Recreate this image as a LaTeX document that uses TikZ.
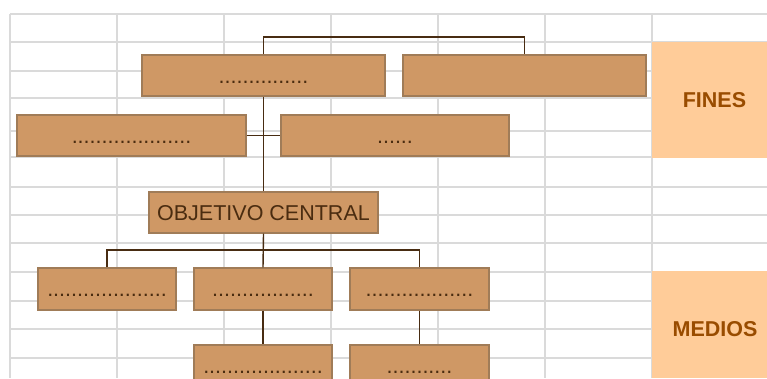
\documentclass[tikz,border=0pt]{standalone}
\usepackage{fontspec}
\setmainfont{Liberation Sans}
\definecolor{gridc}{RGB}{218,218,218}
\definecolor{boxfill}{RGB}{207,152,101}
\definecolor{boxline}{RGB}{160,124,88}
\definecolor{conn}{RGB}{72,44,18}
\definecolor{txt}{RGB}{74,44,16}
\definecolor{labfill}{RGB}{255,204,153}
\definecolor{labtxt}{RGB}{153,76,0}
\begin{document}
\begin{tikzpicture}[x=1pt,y=-1pt,
  gridline/.style={draw=gridc,line width=1.7pt},
  tree/.style={draw=boxline,fill=boxfill,line width=1.2pt,inner sep=0pt,
    minimum height=41pt,text=txt,font=\fontsize{21.5}{24}\selectfont,
    text height=15pt,text depth=0pt},
  link/.style={draw=conn,line width=1.4pt},
  labbox/.style={fill=labfill,draw=none},
  labtext/.style={text=labtxt,font=\fontsize{21.5}{24}\selectfont\bfseries,inner sep=0pt}]
\useasboundingbox (0,0) rectangle (767,378);
\clip (0,0) rectangle (767,378);
\fill[white] (0,0) rectangle (767,378);
% grid
\foreach \x in {10,117,224,331,438,545,652}
  \draw[gridline] (\x,14) -- (\x,378);
\foreach \y in {14,42,71,98,131,157,187,215,243,272,301,329,358}
  \draw[gridline] (10,\y) -- (767,\y);
% side labels
\fill[labbox] (652,42) rectangle (767,158);
\fill[labbox] (652,271) rectangle (767,378);
\node[labtext] (fines) at (714.5,100) {FINES};
\node[labtext] (medios) at (715,329) {MEDIOS};
% boxes
\node[tree,minimum width=243pt] (topL) at (263.5,75.5) {...............};
\node[tree,minimum width=243pt] (topR) at (524.5,75.5) {};
\node[tree,minimum width=229pt] (r2L) at (131.5,135.5) {....................};
\node[tree,minimum width=228pt] (r2R) at (395,135.5) {......};
\node[tree,minimum width=229pt] (obj) at (263.5,212.5) {OBJETIVO CENTRAL};
\node[tree,minimum width=138pt,minimum height=42pt] (A) at (107,289) {....................};
\node[tree,minimum width=138pt,minimum height=42pt] (B) at (263,289) {.................};
\node[tree,minimum width=139pt,minimum height=42pt] (C) at (419.5,289) {..................};
\node[tree,minimum width=138pt] (D) at (263,365.5) {....................};
\node[tree,minimum width=139pt] (E) at (419.5,365.5) {...........};
% connectors
\coordinate (busF) at (263.5,37);
\coordinate (busM) at (263.5,250);
\draw[link] (topL.north) -- (busF) -- (topR.north |- busF) -- (topR.north);
\draw[link] (topL.south) -- (obj.north);
\draw[link] (r2L.east) -- (r2R.west);
\draw[link] (obj.south) -- (B.north);
\draw[link] (A.north) -- (A.north |- busM) -- (C.north |- busM) -- (C.north);
\draw[link] (B.south) -- (D.north);
\draw[link] (C.south) -- (E.north);
\end{tikzpicture}
\end{document}
